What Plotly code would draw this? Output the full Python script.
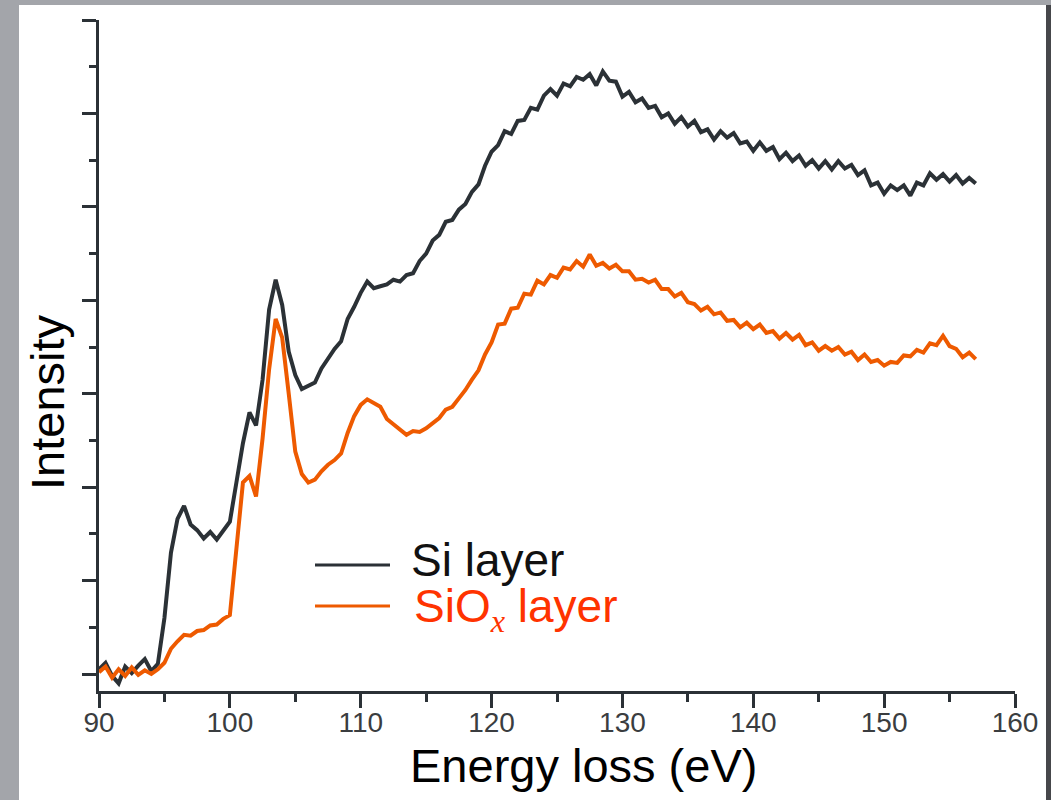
import numpy as np
import plotly.graph_objects as go

# Energy grid (eV)
energy = [round(90.0 + 0.5 * i, 1) for i in range(135)]

# Si layer intensity (arb. units)
si_layer = [
    0.05, 0.12, -0.02, -0.10, 0.08, 0.01, 0.09, 0.16, 0.03, 0.11,
    0.60, 1.30, 1.66, 1.80, 1.60, 1.54, 1.45, 1.52, 1.44, 1.53,
    1.63, 2.05, 2.47, 2.80, 2.66, 3.15, 3.90, 4.22, 3.95, 3.45,
    3.20, 3.05, 3.08, 3.12, 3.27, 3.38, 3.48, 3.56, 3.80, 3.93,
    4.08, 4.20, 4.13, 4.15, 4.17, 4.22, 4.20, 4.27, 4.29, 4.42,
    4.50, 4.64, 4.70, 4.84, 4.86, 4.97, 5.03, 5.16, 5.24, 5.44,
    5.59, 5.66, 5.81, 5.78, 5.92, 5.93, 6.06, 6.04, 6.19, 6.26,
    6.19, 6.32, 6.29, 6.39, 6.36, 6.42, 6.30, 6.45, 6.35, 6.34,
    6.18, 6.23, 6.12, 6.16, 6.06, 6.08, 5.96, 6.00, 5.89, 5.96,
    5.86, 5.92, 5.80, 5.83, 5.72, 5.81, 5.74, 5.79, 5.68, 5.70,
    5.60, 5.69, 5.60, 5.64, 5.51, 5.58, 5.49, 5.55, 5.44, 5.50,
    5.41, 5.49, 5.40, 5.49, 5.41, 5.45, 5.34, 5.39, 5.23, 5.26,
    5.14, 5.23, 5.18, 5.23, 5.12, 5.26, 5.23, 5.36, 5.29, 5.35,
    5.27, 5.34, 5.25, 5.31, 5.25,
]

# SiOx layer intensity (arb. units)
siox_layer = [
    0.02, 0.08, -0.04, 0.05, -0.02, 0.07, -0.01, 0.04, 0.00, 0.05,
    0.12, 0.27, 0.35, 0.42, 0.41, 0.46, 0.47, 0.52, 0.53, 0.59,
    0.63, 1.38, 2.05, 2.12, 1.90, 2.52, 3.26, 3.80, 3.60, 3.00,
    2.38, 2.14, 2.05, 2.08, 2.17, 2.24, 2.29, 2.36, 2.58, 2.76,
    2.88, 2.94, 2.90, 2.86, 2.73, 2.67, 2.61, 2.56, 2.60, 2.59,
    2.63, 2.68, 2.74, 2.83, 2.86, 2.95, 3.04, 3.15, 3.25, 3.42,
    3.55, 3.74, 3.75, 3.91, 3.92, 4.07, 4.06, 4.21, 4.17, 4.27,
    4.24, 4.35, 4.33, 4.42, 4.36, 4.49, 4.37, 4.40, 4.34, 4.38,
    4.31, 4.31, 4.22, 4.23, 4.19, 4.22, 4.12, 4.12, 4.04, 4.08,
    3.98, 3.96, 3.89, 3.93, 3.85, 3.87, 3.78, 3.79, 3.71, 3.76,
    3.69, 3.74, 3.65, 3.67, 3.59, 3.65, 3.58, 3.63, 3.52, 3.55,
    3.46, 3.51, 3.46, 3.50, 3.42, 3.45, 3.36, 3.42, 3.34, 3.36,
    3.30, 3.34, 3.33, 3.41, 3.40, 3.47, 3.44, 3.54, 3.52, 3.62,
    3.51, 3.48, 3.39, 3.44, 3.37,
]

x_ticks = [90, 100, 110, 120, 130, 140, 150, 160]
x_tick_labels = ["90", "100", "110", "120", "130", "140", "150", "160"]
y_ticks = [0, 1, 2, 3, 4, 5, 6, 7]

DARK = "#2b3136"
ORANGE = "#ee5a00"
FONT = "Liberation Sans, Arial, Helvetica, sans-serif"

fig = go.Figure()
fig.add_trace(go.Scatter(x=energy, y=si_layer, mode="lines", name="Si layer",
                         line=dict(color=DARK, width=4), showlegend=False))
fig.add_trace(go.Scatter(x=energy, y=siox_layer, mode="lines", name="SiOx layer",
                         line=dict(color=ORANGE, width=4), showlegend=False))

W, H = 1051, 800
L, R, T, B = 99, 36, 20, 109
pw, ph = W - L - R, H - T - B


def px(xp):
    return (xp - L) / pw


def py(yp):
    return (H - B - yp) / ph


shapes = [
    # white page
    dict(type="rect", xref="paper", yref="paper", x0=px(19), x1=px(1046), y0=py(801), y1=py(5),
         fillcolor="white", line=dict(width=0), layer="below"),
    # dark right edge
    dict(type="rect", xref="paper", yref="paper", x0=px(1046), x1=px(1052), y0=py(801), y1=py(5),
         fillcolor="#46474b", line=dict(width=0), layer="below"),
    # legend lines
    dict(type="line", xref="paper", yref="paper", x0=px(315), x1=px(390), y0=py(565), y1=py(565),
         line=dict(color=DARK, width=3)),
    dict(type="line", xref="paper", yref="paper", x0=px(315), x1=px(390), y0=py(606), y1=py(606),
         line=dict(color=ORANGE, width=3)),
]

annotations = [
    dict(text="Si layer", xref="paper", yref="paper", x=px(409), y=py(560), xanchor="left",
         yanchor="middle", showarrow=False, font=dict(family=FONT, size=46, color="#111111")),
    dict(text="SiO<sub><i><span style='font-family:Liberation Serif, Times New Roman, serif'>x</span></i></sub> layer",
         xref="paper", yref="paper", x=px(412), y=py(609), xanchor="left",
         yanchor="middle", showarrow=False, font=dict(family=FONT, size=46, color="#ff3300")),
    dict(text="Energy loss (eV)", xref="paper", yref="paper", x=px(583), y=py(765),
         xanchor="center", yanchor="middle", showarrow=False,
         font=dict(family=FONT, size=47, color="#000000")),
    dict(text="Intensity", xref="paper", yref="paper", x=px(48), y=py(402), textangle=-90,
         xanchor="center", yanchor="middle", showarrow=False,
         font=dict(family=FONT, size=47, color="#000000")),
]

fig.update_layout(
    width=W, height=H,
    margin=dict(l=L, r=R, t=T, b=B, pad=0),
    paper_bgcolor="#a3a5aa",
    plot_bgcolor="white",
    shapes=shapes,
    annotations=annotations,
    showlegend=False,
)

fig.update_xaxes(
    range=[90, 160], showgrid=False, zeroline=False,
    showline=True, linecolor=DARK, linewidth=3,
    tickmode="array", tickvals=x_ticks, ticktext=x_tick_labels,
    ticks="outside", ticklen=14, tickwidth=3, tickcolor=DARK,
    ticklabelstandoff=-10,
    tickfont=dict(family=FONT, size=28, color="#3a3d40"),
    minor=dict(dtick=5, tick0=90, ticks="outside", ticklen=8, tickwidth=3, tickcolor=DARK, showgrid=False),
)
fig.update_yaxes(
    range=[-0.182, 7.0], showgrid=False, zeroline=False,
    showline=True, linecolor=DARK, linewidth=3,
    tickmode="array", tickvals=y_ticks, showticklabels=False,
    ticks="outside", ticklen=14, tickwidth=3, tickcolor=DARK,
    minor=dict(dtick=0.5, tick0=0, ticks="outside", ticklen=7, tickwidth=3, tickcolor=DARK, showgrid=False),
)

fig.write_html(
    "out.html",
    config={"displayModeBar": False},
    post_script="document.body.style.margin='0';document.body.style.padding='0';document.body.style.overflow='hidden';",
)
